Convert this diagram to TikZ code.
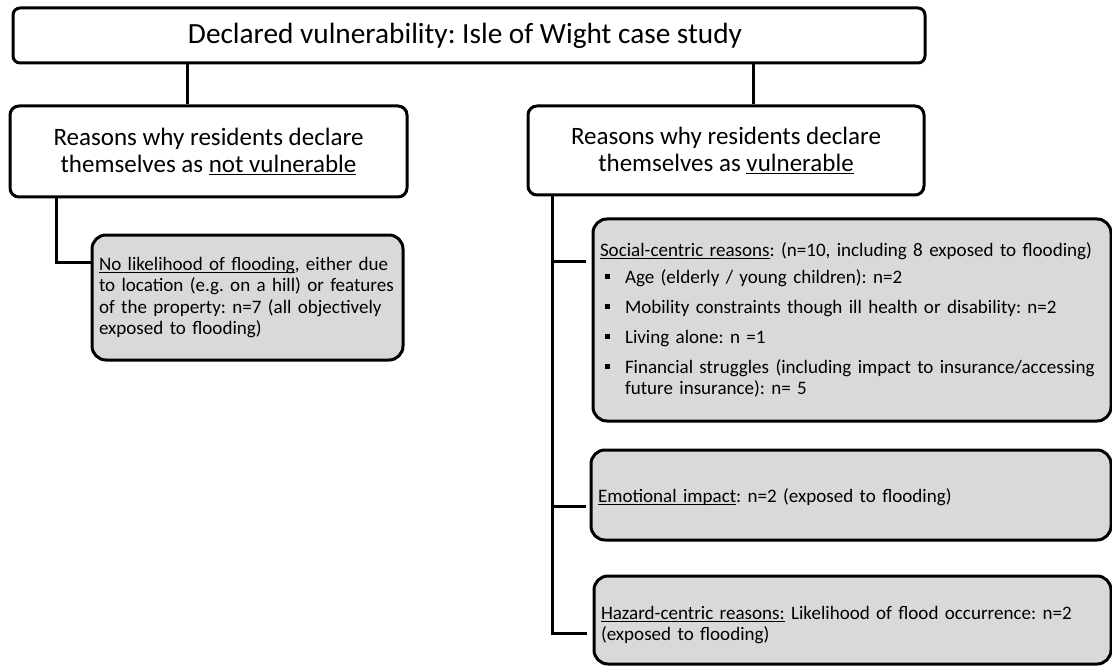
\documentclass[tikz,border=0pt]{standalone}
\usepackage{fontspec}
\setmainfont{Carlito}
\usetikzlibrary{calc}

\definecolor{boxgray}{HTML}{D9D9D9}
\frenchspacing

% underline drawn just below the baseline
\newcommand{\undl}[1]{\setbox0=\hbox{#1}\rlap{\rule[-0.13em]{\wd0}{0.055em}}\box0\relax}
% small square bullet followed by the item indent
\newcommand{\sqbullet}{\makebox[25pt][l]{\hspace{5pt}\rule[4.5pt]{5pt}{5pt}}}

\begin{document}
\begin{tikzpicture}[x=1pt,y=-1pt,
  link/.style={line width=3pt},
  titlebox/.style={draw, line width=3pt, rounded corners=7pt, fill=white,
    inner sep=0pt, align=center, font=\fontsize{29.3}{31}\selectfont},
  whitebox/.style={draw, line width=3pt, rounded corners=9pt, fill=white,
    inner sep=0pt, align=center, font=\fontsize{25}{27}\selectfont},
  graybox/.style={draw, line width=3pt, rounded corners=14pt, fill=boxgray,
    inner xsep=7pt, inner ysep=0pt, align=left, font=\fontsize{19.05}{21.4}\selectfont}]
\useasboundingbox (0,0) rectangle (1112,666);

% headings
\node[titlebox, minimum width=912pt, minimum height=55pt] (top) at (469,35.5)
  {\hspace*{-8pt}Declared vulnerability: Isle of Wight case study};
\node[whitebox, minimum width=397pt, minimum height=91pt] (lbox) at (208.5,151.5)
  {Reasons why residents declare\\themselves as \undl{not vulnerable}};
\node[whitebox, minimum width=396pt, minimum height=89pt] (rbox) at (726,150.5)
  {Reasons why residents declare\\themselves as \undl{vulnerable}};

% reasons (one box per line so nothing re-wraps)
\node[graybox, text width=297pt, minimum height=125pt] (g1) at (247.5,297.5)
  {\mbox{\undl{No likelihood of flooding}, either due}\\
   \mbox{to location (e.g. on a hill) or features}\\
   \mbox{of the property: n=7 (all objectively}\\
   \mbox{exposed to flooding)}};
\node[graybox, text width=504pt, minimum height=202pt] (soc) at (852,320)
  {\mbox{\undl{Social-centric reasons}: (n=10, including 8 exposed to flooding)}\\[5.5pt]
   \mbox{\sqbullet Age (elderly / young children): n=2}\\[8.5pt]
   \mbox{\sqbullet Mobility constraints though ill health or disability: n=2}\\[8.5pt]
   \mbox{\sqbullet Living alone: n =1}\\[8.5pt]
   \mbox{\sqbullet Financial struggles (including impact to insurance/accessing}\\
   \mbox{\hspace*{25pt}future insurance): n= 5}};
\node[graybox, text width=506pt, minimum height=90pt] (emo) at (851,495)
  {\rule{0pt}{19pt}\mbox{\undl{Emotional impact}: n=2 (exposed to flooding)}};
\node[graybox, text width=503pt, minimum height=88pt] (haz) at (852.5,620)
  {\rule{0pt}{23pt}\mbox{\undl{Hazard-centric reasons:} Likelihood of flood occurrence: n=2}\\
   \mbox{(exposed to flooding)}};

% connectors
\draw[link] ([xshift=-21.5pt]lbox.north) -- ([xshift=-21.5pt]lbox.north |- top.south);
\draw[link] ([xshift=27.5pt]rbox.north) -- ([xshift=27.5pt]rbox.north |- top.south);
\draw[link] ([xshift=-152.5pt]lbox.south) |- ([yshift=35.5pt]g1.west);

\coordinate (spine) at ([xshift=-174pt]rbox.south);
\coordinate (socin) at ([yshift=59pt]soc.west);
\coordinate (emoin) at ([yshift=-11pt]emo.west);
\coordinate (hazin) at ([yshift=-13pt]haz.west);
\draw[link, shorten >=6pt] (spine) |- (hazin);
\draw[link, shorten >=6pt] (spine |- socin) -- (socin);
\draw[link, shorten >=4pt] (spine |- emoin) -- (emoin);
\end{tikzpicture}
\end{document}
